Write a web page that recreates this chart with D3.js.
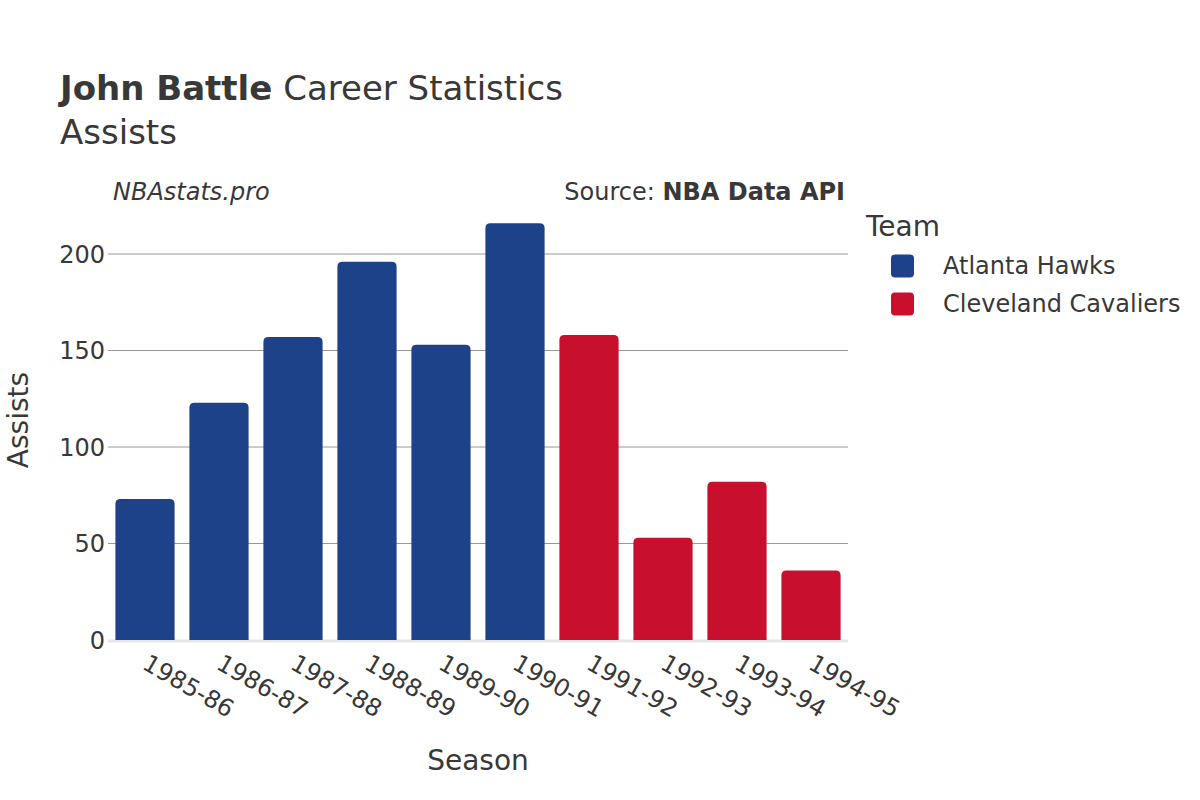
<!DOCTYPE html>
<html>
<head>
<meta charset="utf-8">
<script src="https://cdn.jsdelivr.net/npm/d3@7"></script>
<style>
  html, body { margin: 0; padding: 0; background: #fff; }
  svg { display: block; font-family: "DejaVu Sans", sans-serif; }
</style>
</head>
<body>
<svg id="chart" width="1200" height="800"></svg>
<script>
const seasons = ["1985-86","1986-87","1987-88","1988-89","1989-90","1990-91","1991-92","1992-93","1993-94","1994-95"];
const teams = ["Atlanta Hawks","Atlanta Hawks","Atlanta Hawks","Atlanta Hawks","Atlanta Hawks","Atlanta Hawks","Cleveland Cavaliers","Cleveland Cavaliers","Cleveland Cavaliers","Cleveland Cavaliers"];
const assists = [73, 123, 157, 196, 153, 216, 158, 53, 82, 36];
const teamNames = ["Atlanta Hawks", "Cleveland Cavaliers"];
const teamColors = ["#1d428a", "#c8102e"];
const yTicks = [0, 50, 100, 150, 200];

const svg = d3.select("#chart");
const textColor = "#383838";
const plotLeft = 108, plotRight = 848, plotTop = 200, plotBottom = 640;

const x = d3.scaleBand().domain(seasons).range([plotLeft, plotRight]).paddingInner(0.2).paddingOuter(0.1);
const y = d3.scaleLinear().domain([0, 228]).range([plotBottom, plotTop]);
const color = d3.scaleOrdinal().domain(teamNames).range(teamColors);

// Title
const title = svg.append("text").attr("x", 60).attr("y", 100).attr("font-size", 34).attr("fill", textColor);
title.append("tspan").attr("font-weight", "bold").text("John Battle");
title.append("tspan").text(" Career Statistics");
svg.append("text").attr("x", 60).attr("y", 144).attr("font-size", 34).attr("fill", textColor).text("Assists");

svg.append("text").attr("x", 113).attr("y", 200).attr("font-size", 24).attr("font-style", "italic").attr("fill", textColor).text("NBAstats.pro");
const src = svg.append("text").attr("x", 845).attr("y", 200).attr("font-size", 24).attr("text-anchor", "end").attr("fill", textColor);
src.append("tspan").text("Source: ");
src.append("tspan").attr("font-weight", "bold").text("NBA Data API");

// Grid
const yAxis = d3.axisLeft(y).tickValues(yTicks).tickSize(0).tickPadding(0);
svg.append("g").selectAll("line").data(yTicks.filter(d => d > 0)).join("line")
  .attr("x1", plotLeft).attr("x2", plotRight)
  .attr("y1", d => y(d)).attr("y2", d => y(d))
  .attr("stroke", "#999").attr("stroke-width", 1);

const ya = svg.append("g").attr("transform", `translate(${plotLeft - 3},0)`).call(yAxis);
ya.select(".domain").remove();
ya.selectAll("text").attr("font-size", 24).attr("fill", textColor).attr("font-family", "DejaVu Sans").attr("dy", "0.35em");

// Baseline
svg.append("line").attr("x1", plotLeft).attr("x2", plotRight).attr("y1", y(0) + 1).attr("y2", y(0) + 1)
  .attr("stroke", "#e6e6e6").attr("stroke-width", 3);

// Bars with rounded top corners
const r = 5;
function barPath(d, i) {
  const x0 = x(seasons[i]), w = x.bandwidth();
  const yt = y(d), yb = y(0);
  return `M${x0},${yb} L${x0},${yt + r} Q${x0},${yt} ${x0 + r},${yt} L${x0 + w - r},${yt} Q${x0 + w},${yt} ${x0 + w},${yt + r} L${x0 + w},${yb} Z`;
}
svg.append("g").selectAll("path").data(assists).join("path")
  .attr("d", (d, i) => barPath(d, i))
  .attr("fill", (d, i) => color(teams[i]));

// X tick labels
const xa = svg.append("g").attr("transform", `translate(0,${plotBottom})`)
  .call(d3.axisBottom(x).tickSize(0).tickPadding(0));
xa.select(".domain").remove();
xa.selectAll("text")
  .attr("font-size", 24).attr("fill", textColor).attr("font-family", "DejaVu Sans")
  .attr("text-anchor", "start").attr("dy", 0).attr("y", 0)
  .attr("transform", "translate(-4,28) rotate(30)");

// Axis titles
svg.append("text").attr("x", 478).attr("y", 770).attr("font-size", 28).attr("text-anchor", "middle").attr("fill", textColor).text("Season");
svg.append("text").attr("transform", "translate(18,420) rotate(-90)").attr("font-size", 28).attr("text-anchor", "middle").attr("dy", "0.35em").attr("fill", textColor).text("Assists");

// Legend
svg.append("text").attr("x", 866).attr("y", 236).attr("font-size", 28).attr("fill", textColor).text("Team");
const lg = svg.append("g").selectAll("g").data(teamNames).join("g")
  .attr("transform", (d, i) => `translate(0,${266 + i * 38})`);
lg.append("rect").attr("x", 891).attr("y", -11.5).attr("width", 23).attr("height", 23).attr("rx", 4)
  .attr("fill", d => color(d));
lg.append("text").attr("x", 943).attr("y", 0).attr("dy", "0.35em").attr("font-size", 24).attr("fill", textColor).text(d => d);
</script>
</body>
</html>
